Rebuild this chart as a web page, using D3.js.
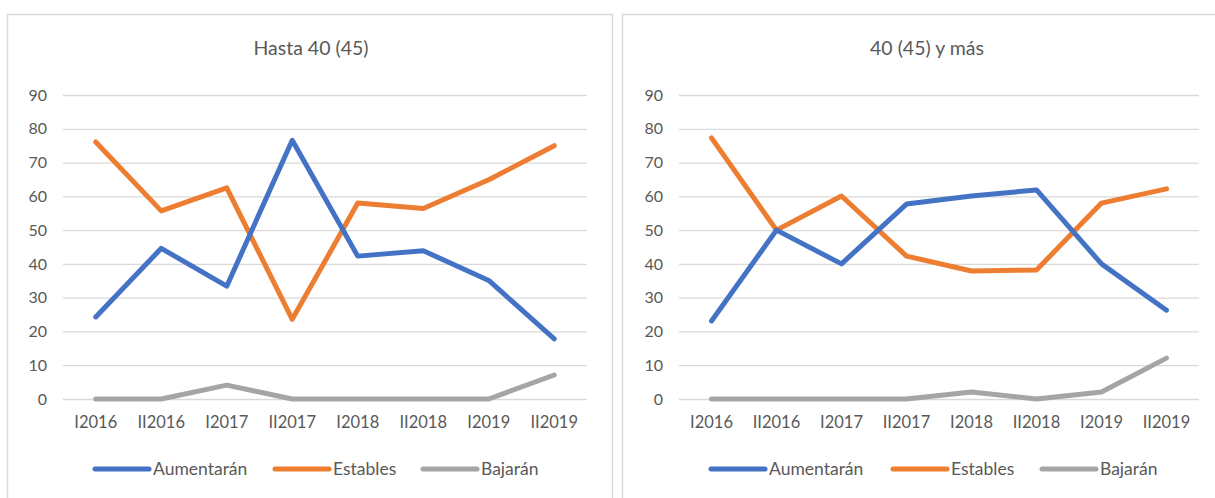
<!DOCTYPE html>
<html>
<head>
<meta charset="utf-8">
<script src="https://cdn.jsdelivr.net/npm/d3@7"></script>
<style>
  body { margin: 0; background: #fff; }
  text { font-family: Lato, "Open Sans", sans-serif; fill: #595959; }
</style>
</head>
<body>
<div id="chart"></div>
<script>
var width = 1215,
    height = 498;

var periods = ['I2016', 'II2016', 'I2017', 'II2017', 'I2018', 'II2018', 'I2019', 'II2019'];
var seriesNames = ['Aumentarán', 'Estables', 'Bajarán'];
var yTicks = [0, 10, 20, 30, 40, 50, 60, 70, 80, 90];

// Hasta 40 (45)
var youngUp = [24.3, 44.6, 33.4, 76.6, 42.3, 43.9, 35.1, 17.8];
var youngStable = [76.1, 55.7, 62.5, 23.6, 58, 56.4, 64.9, 75];
var youngDown = [0, 0, 4.1, 0, 0, 0, 0, 7.1];

// 40 (45) y más
var olderUp = [23.1, 50, 40, 57.7, 60.1, 61.9, 40, 26.3];
var olderStable = [77.3, 50, 60.1, 42.3, 37.9, 38.2, 58, 62.2];
var olderDown = [0, 0, 0, 0, 2.1, 0, 2.1, 12.1];

var colors = d3.scaleOrdinal()
    .domain(seriesNames)
    .range(['#4472C4', '#ED7D31', '#A5A5A5']);

var panels = [
  { title: 'Hasta 40 (45)', series: [youngUp, youngStable, youngDown],
    box: [7, 14, 605, 500], titleX: 311, plot: [63, 587], legendX: [95, 275, 423] },
  { title: '40 (45) y más', series: [olderUp, olderStable, olderDown],
    box: [622, 14, 620, 500], titleX: 927, plot: [679, 1199], legendX: [711, 893, 1042] }
];

var svg = d3.select('#chart').append('svg')
    .attr('width', width)
    .attr('height', height);

var y = d3.scaleLinear()
    .domain([0, 90])
    .range([399, 95]);

panels.forEach(function(p) {
  var g = svg.append('g');

  g.append('rect')
      .attr('x', p.box[0] + 0.5)
      .attr('y', p.box[1] + 0.5)
      .attr('width', p.box[2])
      .attr('height', p.box[3])
      .attr('fill', '#fff')
      .attr('stroke', '#d9d9d9')
      .attr('stroke-width', 1.5);

  g.append('text')
      .attr('x', p.titleX)
      .attr('y', 55)
      .attr('text-anchor', 'middle')
      .attr('font-size', '19.5px')
      .text(p.title);

  var x = d3.scaleBand()
      .domain(periods)
      .range(p.plot);

  var yAxis = d3.axisLeft(y)
      .tickValues(yTicks)
      .tickSize(-(p.plot[1] - p.plot[0]))
      .tickPadding(16);

  var ya = g.append('g')
      .attr('transform', 'translate(' + p.plot[0] + ',0)')
      .call(yAxis);
  ya.select('.domain').remove();
  ya.selectAll('line').attr('stroke', '#d9d9d9').attr('stroke-width', 1.3);
  ya.selectAll('text').attr('font-size', '16px').attr('fill', '#595959')
      .attr('font-family', 'Lato, sans-serif');

  var xAxis = d3.axisBottom(x)
      .tickSize(0)
      .tickPadding(17);

  var xa = g.append('g')
      .attr('transform', 'translate(0,399)')
      .call(xAxis);
  xa.select('.domain').remove();
  xa.selectAll('text').attr('font-size', '16.5px').attr('fill', '#595959')
      .attr('font-family', 'Lato, sans-serif');

  var line = d3.line()
      .x(function(d, i) { return x(periods[i]) + x.bandwidth() / 2; })
      .y(function(d) { return y(d); });

  // gray first so blue and orange sit on top
  [2, 1, 0].forEach(function(k) {
    g.append('path')
        .datum(p.series[k])
        .attr('fill', 'none')
        .attr('stroke', colors(seriesNames[k]))
        .attr('stroke-width', 5)
        .attr('stroke-linejoin', 'round')
        .attr('stroke-linecap', 'round')
        .attr('d', line);
  });

  seriesNames.forEach(function(name, k) {
    var lx = p.legendX[k];
    g.append('line')
        .attr('x1', lx)
        .attr('x2', lx + 54)
        .attr('y1', 469)
        .attr('y2', 469)
        .attr('stroke', colors(name))
        .attr('stroke-width', 5)
        .attr('stroke-linecap', 'round');
    g.append('text')
        .attr('x', lx + 58)
        .attr('y', 475)
        .attr('font-size', '17.5px')
        .text(name);
  });
});
</script>
</body>
</html>
